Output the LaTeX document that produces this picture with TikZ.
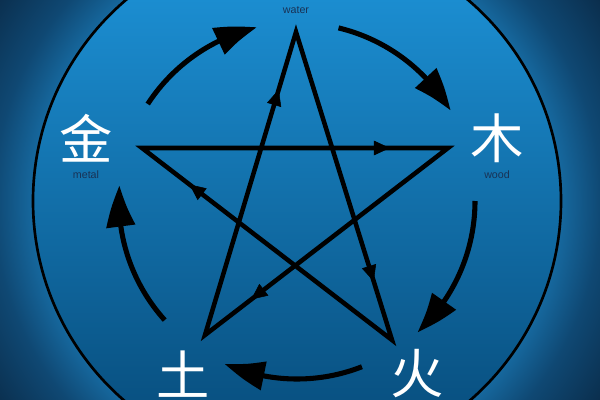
\documentclass[tikz,border=0pt]{standalone}
\usepackage{fontspec}
\setmainfont{Liberation Sans}
\newfontfamily\cjkfont{Noto Sans CJK SC}
\usetikzlibrary{decorations.markings,arrows.meta,bending}

\definecolor{bgdark}{RGB}{10,44,74}
\definecolor{bgmid}{RGB}{15,72,115}
\definecolor{bgring}{RGB}{22,104,158}
\definecolor{innertop}{RGB}{30,150,220}
\definecolor{innerbot}{RGB}{6,72,118}
\definecolor{labelnavy}{RGB}{25,50,85}

\pgfdeclareradialshading{vignette}{\pgfpoint{0bp}{0bp}}{color(0bp)=(bgring); color(16.5bp)=(bgring); color(19bp)=(bgmid); color(23bp)=(bgdark); color(50bp)=(bgdark)}
\pgfdeclareverticalshading{innerblue}{100bp}{color(0bp)=(innerbot); color(25bp)=(innerbot); color(75bp)=(innertop); color(100bp)=(innertop)}

\tikzset{
  ring/.style={line width=2pt},
  starline/.style={line width=3.4pt, line join=miter},
  starmark/.style={postaction={decorate}, decoration={markings, mark=at position 0.81 with {\arrow{Triangle[length=12pt,width=11pt]}}}},
  cycarrow/.style={line width=3.8pt, -{Triangle[length=31pt,width=21pt,bend]}},
  hanzi/.style={text=white, font=\cjkfont\fontsize{40}{40}\selectfont, inner sep=0pt},
  engl/.style={text=labelnavy, font=\fontsize{8}{8}\selectfont, inner sep=0.75pt},
}

\begin{document}
\begin{tikzpicture}[x=0.75pt,y=0.75pt,yscale=-1,xscale=1]
    \useasboundingbox (0,0) rectangle (600,400);
    \clip (0,0) rectangle (600,400);
    \coordinate (ctr) at (297,201);

    % background and outer ring
    \shade[shading=vignette] (-103,-199) rectangle (697,601);
    \shade[shading=innerblue] (ctr) circle [radius=264];
    \draw[ring] (ctr) circle [radius=264];

    % star points
    \coordinate (pwater) at (296,32);
    \coordinate (pwood) at (448,148);
    \coordinate (pfire) at (392,340);
    \coordinate (pearth) at (205,335);
    \coordinate (pmetal) at (142,148);

    % controlling cycle
    \draw[starline] (pwater) -- (pfire) -- (pmetal) -- (pwood) -- (pearth) -- cycle;
    \path[starmark] (pwater) -- (pfire);
    \path[starmark] (pfire) -- (pmetal);
    \path[starmark] (pmetal) -- (pwood);
    \path[starmark] (pwood) -- (pearth);
    \path[starmark] (pearth) -- (pwater);

    % generating cycle
    \path (ctr) ++(-147:178) coordinate (amw);
    \draw[cycarrow] (amw) arc [start angle=-147, end angle=-103, radius=178];
    \path (ctr) ++(-76.5:178) coordinate (awd);
    \draw[cycarrow] (awd) arc [start angle=-76.5, end angle=-30.5, radius=178];
    \path (ctr) ++(0:178) coordinate (adf);
    \draw[cycarrow] (adf) arc [start angle=0, end angle=47.5, radius=178];
    \path (ctr) ++(68.6:178) coordinate (afe);
    \draw[cycarrow] (afe) arc [start angle=68.6, end angle=114, radius=178];
    \path (ctr) ++(138:178) coordinate (aem);
    \draw[cycarrow] (aem) arc [start angle=138, end angle=185, radius=178];

    % Text Node
    \node[hanzi] (metal) at (86,138) {金};
    % Text Node
    \node[engl] (metallabel) at (86,175) {metal};
    % Text Node
    \node[hanzi] (wood) at (497,138) {木};
    % Text Node
    \node[engl] (woodlabel) at (497,175) {wood};
    % Text Node
    \node[hanzi] (fire) at (417,374) {火};
    % Text Node
    \node[hanzi] (earth) at (183,374) {土};
    % Text Node
    \node[engl] (waterlabel) at (296,10) {water};
\end{tikzpicture}
\end{document}
